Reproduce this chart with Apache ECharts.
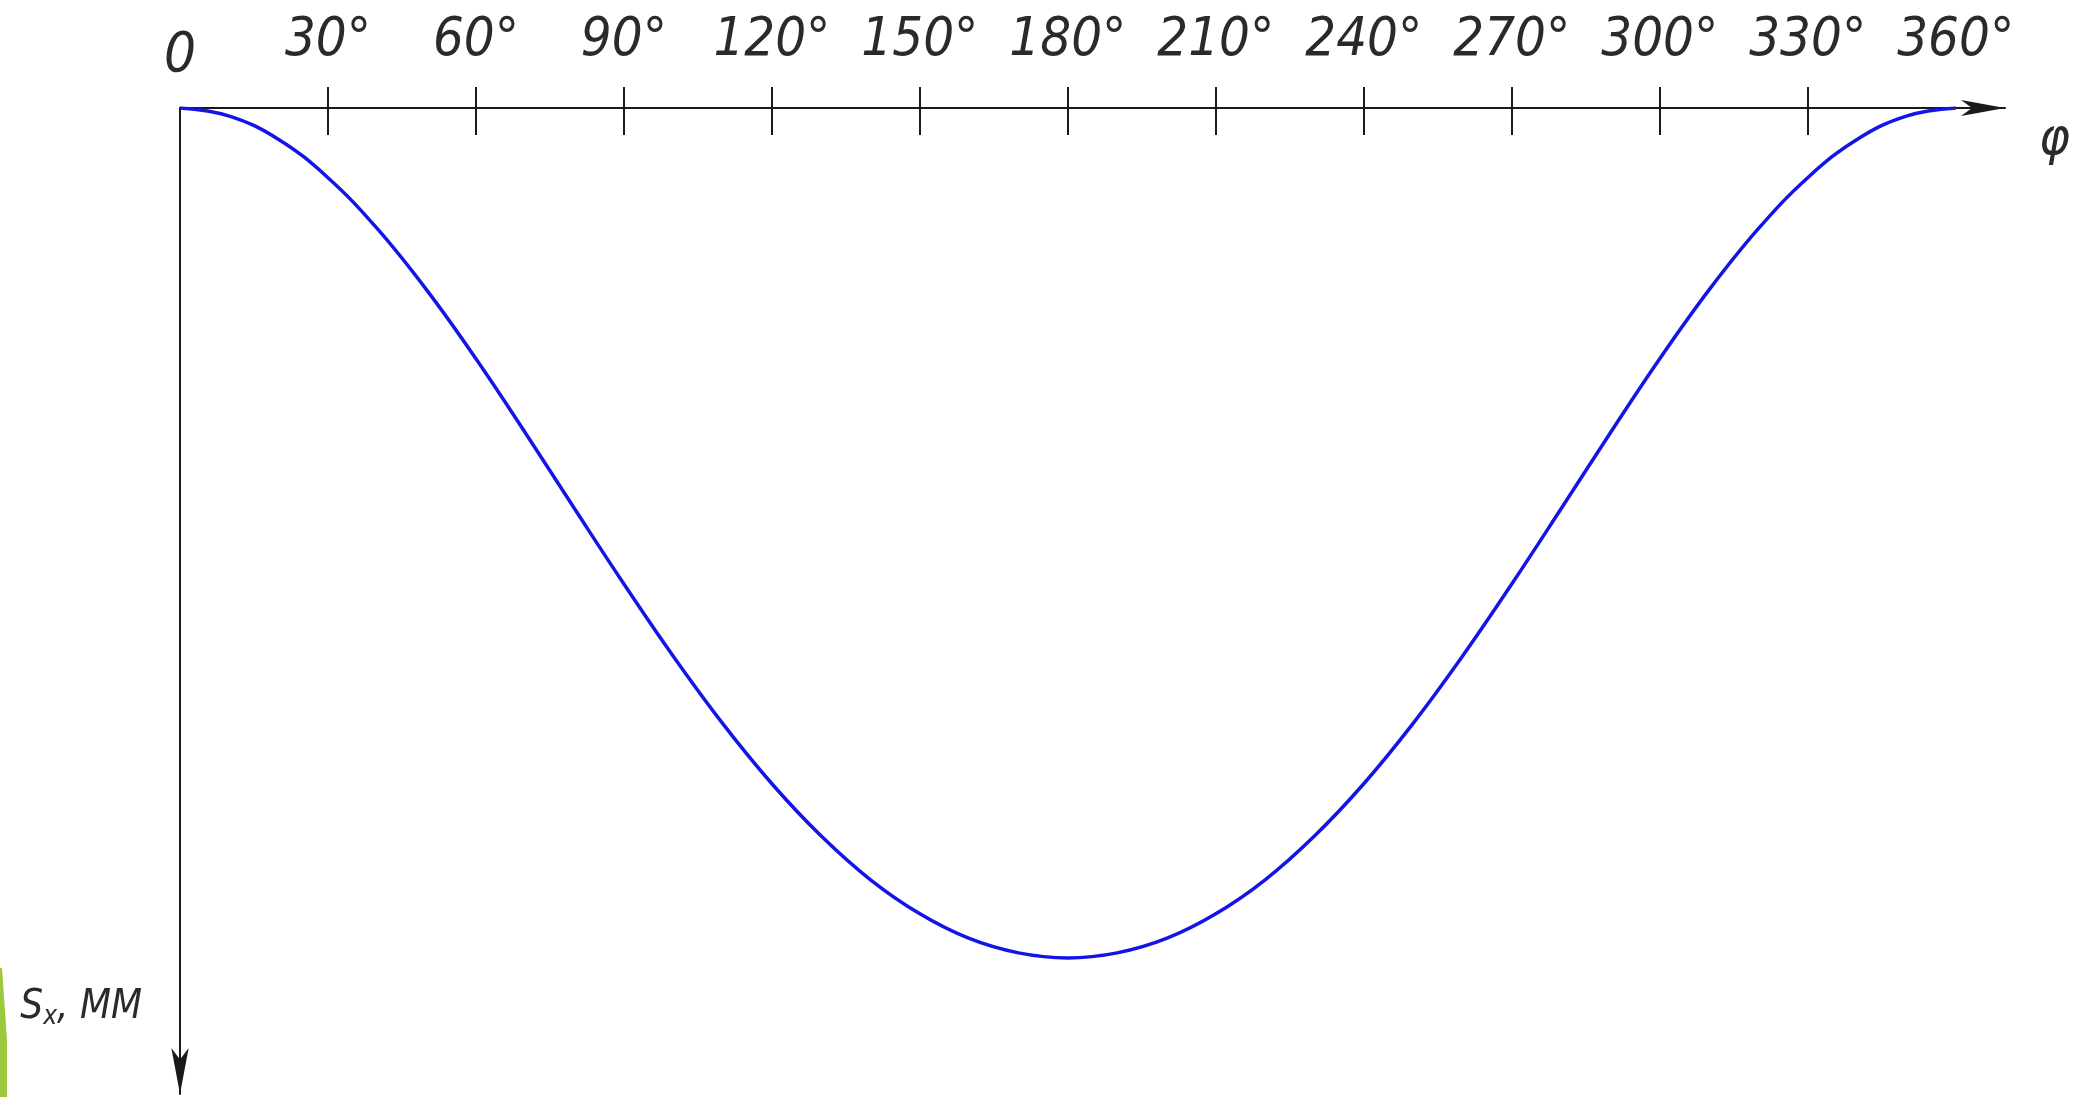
<!DOCTYPE html>
<html>
<head>
<meta charset="utf-8">
<style>
  html, body { margin: 0; padding: 0; background: #ffffff; }
  #chart { width: 2085px; height: 1097px; }
</style>
<script src="https://cdn.jsdelivr.net/npm/echarts@6/dist/echarts.min.js"></script>
</head>
<body>
<div id="chart"></div>
<script>
// Crank angle, degrees
const anglesDeg = [0, 10, 20, 30, 40, 50, 60, 70, 80, 90, 100, 110, 120, 130, 140, 150, 160, 170, 180,
                   190, 200, 210, 220, 230, 240, 250, 260, 270, 280, 290, 300, 310, 320, 330, 340, 350, 360];
// Slider displacement S_x, mm
const displacement = [0, 1.9, 7.4, 16.4, 28.4, 42.8, 59.0, 76.4, 94.3, 112.0, 129.0, 144.8, 159.0, 171.3, 181.6, 189.6, 195.4, 198.8, 200.0,
                      198.8, 195.4, 189.6, 181.6, 171.3, 159.0, 144.8, 129.0, 112.0, 94.3, 76.4, 59.0, 42.8, 28.4, 16.4, 7.4, 1.9, 0];
// Angle axis ticks and labels
const tickAngles = [30, 60, 90, 120, 150, 180, 210, 240, 270, 300, 330];
const labelAngles = [30, 60, 90, 120, 150, 180, 210, 240, 270, 300, 330, 360];
const originLabel = [0];

const FONT = '"Liberation Sans Narrow", "DejaVu Sans Condensed", "DejaVu Sans", sans-serif';
const INK = '#1a1a1a';
const TEXT_INK = '#2a2a2a';

const chart = echarts.init(document.getElementById('chart'), null, { renderer: 'canvas' });

chart.setOption({
  backgroundColor: '#ffffff',
  animation: false,
  grid: { left: 180, right: 80, top: 108, bottom: 3, containLabel: false },
  xAxis: [
    {
      type: 'value', position: 'top', min: 0, max: 370, interval: 30,
      name: 'φ', nameLocation: 'end', nameGap: 34,
      nameTextStyle: { fontFamily: FONT, fontStyle: 'italic', fontSize: 52, color: TEXT_INK,
                       align: 'left', verticalAlign: 'top', padding: [6, 0, 0, 0] },
      axisLine: { show: true, lineStyle: { color: INK, width: 2 },
                  symbol: ['none', 'arrow'], symbolSize: [12, 44] },
      axisTick: { show: true, inside: false, length: 21, customValues: tickAngles,
                  lineStyle: { color: INK, width: 2 } },
      axisLabel: { show: true, margin: 40, customValues: labelAngles,
                   formatter: v => v + '°',
                   fontFamily: FONT, fontStyle: 'italic', fontSize: 54, color: TEXT_INK },
      splitLine: { show: false }
    },
    {
      type: 'value', position: 'top', min: 0, max: 370, interval: 30,
      axisLine: { show: false },
      axisTick: { show: true, inside: true, length: 27, customValues: tickAngles,
                  lineStyle: { color: INK, width: 2 } },
      axisLabel: { show: true, margin: 24, customValues: originLabel,
                   formatter: v => String(v),
                   fontFamily: FONT, fontStyle: 'italic', fontSize: 56, color: TEXT_INK },
      splitLine: { show: false }
    }
  ],
  yAxis: {
    type: 'value', inverse: true, min: 0, max: 232,
    name: '{s|S}{sub|x}{s|, ММ}', nameLocation: 'end', nameGap: -86,
    nameTextStyle: {
      align: 'right', verticalAlign: 'middle', padding: [0, 38, 0, 0],
      rich: {
        s: { fontFamily: FONT, fontStyle: 'italic', fontSize: 40, color: TEXT_INK },
        sub: { fontFamily: FONT, fontStyle: 'italic', fontSize: 26, color: TEXT_INK,
               padding: [18, 0, 0, 0] }
      }
    },
    axisLine: { show: true, lineStyle: { color: INK, width: 2 },
                symbol: ['arrow', 'none'], symbolSize: [13, 46] },
    axisTick: { show: false },
    axisLabel: { show: false },
    splitLine: { show: false }
  },
  graphic: [
    {
      type: 'polygon', z: 10,
      shape: { points: [[0, 968], [2, 968], [7, 1040], [7, 1097], [0, 1097]] },
      style: { fill: '#9cc83c' }
    }
  ],
  series: [
    {
      type: 'line',
      xAxisIndex: 0,
      data: anglesDeg.map((a, i) => [a, displacement[i]]),
      smooth: 0.4,
      showSymbol: false,
      lineStyle: { color: '#1414e6', width: 3.5 },
      z: 3
    }
  ]
});
</script>
</body>
</html>
